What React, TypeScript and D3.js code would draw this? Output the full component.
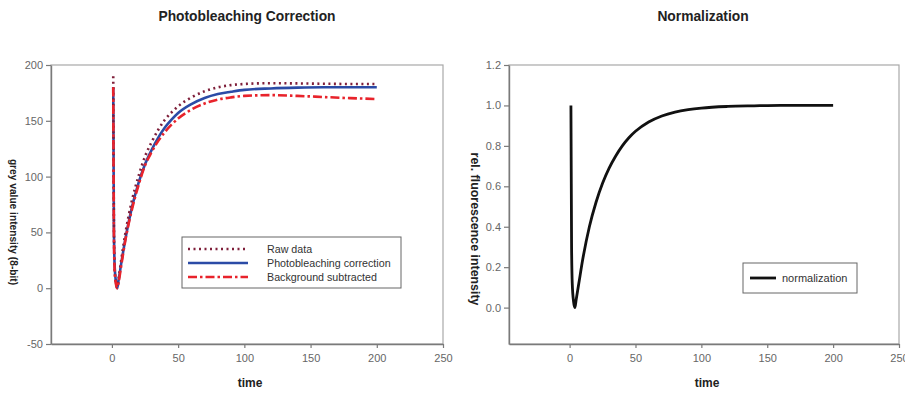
import React, { useRef, useEffect } from 'react';
import * as d3 from 'd3';

// values
const times = [1, 1.5, 2, 3, 4, 5, 7, 10, 15, 20, 25, 30, 35, 40, 45, 50, 60, 70, 80, 90, 100, 120, 140, 160, 180, 200];
const rawData = [190, 60, 20, 5, 1, 8, 25, 48, 78, 100, 118, 131, 142, 151, 157.5, 163, 171, 176.5, 180, 182, 183, 183.7, 183.5, 183.2, 183, 183];
const correctedData = [180, 55, 22, 6, 0, 7, 22, 43, 72, 94, 111, 124, 135, 144, 151, 157, 165, 170.5, 174, 176, 177.7, 179, 179.7, 180, 180, 180];
const backgroundData = [180, 50, 18, 4, 0, 5, 20, 42, 70, 92, 110, 122, 132, 140, 146.5, 152, 160, 165.5, 169, 171, 172.3, 173, 172.3, 171.3, 170.3, 169.5];
const normalizedData = [1.0, 0.3, 0.12, 0.03, 0, 0.04, 0.12, 0.24, 0.4, 0.52, 0.615, 0.69, 0.75, 0.8, 0.84, 0.872, 0.918, 0.948, 0.967, 0.979, 0.987, 0.995, 0.998, 1.0, 1.0, 1.0];

const xTicks = [0, 50, 100, 150, 200, 250];
const leftYTicks = [-50, 0, 50, 100, 150, 200];
const rightYTicks = [0, 0.2, 0.4, 0.6, 0.8, 1.0, 1.2];

const font = "'Liberation Sans', Arial, sans-serif";

type Series = { name: string; values: number[]; color: string; dash: string | null; width: number };

const App = () => {
  const svgRef = useRef<SVGSVGElement>(null);

  useEffect(() => {
    const svg = d3.select(svgRef.current);
    svg.selectAll('*').remove();

    const drawPanel = (o: any) => {
      const g = svg.append('g');
      const x = d3.scaleLinear().domain([-46, 250]).range([o.left, o.right]);
      const y = d3.scaleLinear().domain(o.yDomain).range([344, 65]);

      // plot frame
      g.append('rect')
        .attr('x', o.left).attr('y', 65)
        .attr('width', o.right - o.left).attr('height', 344 - 65)
        .attr('fill', 'none').attr('stroke', '#a8a8a8').attr('stroke-width', 1.2);

      const xAxis = g.append('g')
        .attr('transform', 'translate(0,344)')
        .call(d3.axisBottom(x).tickValues(xTicks).tickSize(4).tickSizeOuter(0).tickPadding(6));
      const yAxis = g.append('g')
        .attr('transform', `translate(${o.left},0)`)
        .call(d3.axisLeft(y).tickValues(o.yTicks).tickSize(5).tickSizeOuter(0).tickPadding(3).tickFormat(o.yFormat));

      [xAxis, yAxis].forEach(a => {
        a.select('.domain').attr('stroke', '#7a7a7a').attr('stroke-width', 1.4);
        a.selectAll('.tick line').attr('stroke', '#7a7a7a').attr('stroke-width', 1.2);
        a.selectAll('.tick text').attr('fill', '#666').style('font-size', '11px').style('font-family', font);
      });

      const line = d3.line<number>()
        .x((d, i) => x(times[i]))
        .y(d => y(d))
        .curve(d3.curveMonotoneX);

      o.series.forEach((s: Series) => {
        g.append('path')
          .datum(s.values)
          .attr('fill', 'none')
          .attr('stroke', s.color)
          .attr('stroke-width', s.width)
          .attr('stroke-dasharray', s.dash)
          .attr('stroke-linejoin', 'round')
          .attr('d', line);
      });

      // titles
      g.append('text')
        .attr('x', o.titleX).attr('y', 21)
        .attr('text-anchor', 'middle')
        .style('font-family', font).style('font-size', '13.8px').style('font-weight', 'bold')
        .attr('fill', '#222')
        .text(o.title);

      g.append('text')
        .attr('x', (o.left + o.right) / 2 + 3).attr('y', 387)
        .attr('text-anchor', 'middle')
        .style('font-family', font).style('font-size', '12px').style('font-weight', 'bold')
        .attr('fill', '#222')
        .text('time');

      g.append('text')
        .attr('transform', `translate(${o.yLabelX},${o.yLabelY}) rotate(90)`)
        .attr('text-anchor', 'middle')
        .attr('dominant-baseline', 'central')
        .style('font-family', font).style('font-size', o.yLabelSize).style('font-weight', 'bold')
        .attr('fill', '#222')
        .text(o.yLabel);

      // legend
      const lg = o.legend;
      g.append('rect')
        .attr('x', lg.x).attr('y', lg.y).attr('width', lg.w).attr('height', lg.h)
        .attr('fill', '#fff').attr('stroke', '#666').attr('stroke-width', 1);
      lg.items.forEach((s: Series, i: number) => {
        const ly = lg.rowY + i * 14;
        g.append('line')
          .attr('x1', lg.lineX1).attr('x2', lg.lineX2)
          .attr('y1', ly).attr('y2', ly)
          .attr('stroke', s.color).attr('stroke-width', s.width)
          .attr('stroke-dasharray', s.dash);
        g.append('text')
          .attr('x', lg.textX).attr('y', ly + 4)
          .style('font-family', font).style('font-size', lg.fontSize)
          .attr('fill', '#333')
          .text(s.name);
      });
    };

    const rawS: Series = { name: 'Raw data', values: rawData, color: '#7f1f3a', dash: '2 3.5', width: 2.6 };
    const corS: Series = { name: 'Photobleaching correction', values: correctedData, color: '#2b4ba6', dash: null, width: 2.6 };
    const bgS: Series = { name: 'Background subtracted', values: backgroundData, color: '#e8232b', dash: '9 3 2.5 3', width: 2.6 };
    const normS: Series = { name: 'normalization', values: normalizedData, color: '#111', dash: null, width: 2.8 };

    const dashMinus = (d: number) => String(d);

    drawPanel({
      left: 51, right: 443,
      yDomain: [-50, 200], yTicks: leftYTicks, yFormat: dashMinus,
      title: 'Photobleaching Correction', titleX: 247,
      yLabel: 'grey value intensity (8-bit)', yLabelX: 13, yLabelY: 222, yLabelSize: '10.2px',
      series: [corS, rawS, bgS],
      legend: { items: [rawS, corS, bgS], x: 182, y: 237, w: 219, h: 51, rowY: 249, lineX1: 188, lineX2: 248, textX: 267, fontSize: '10.7px' },
    });

    drawPanel({
      left: 509, right: 899,
      yDomain: [-0.18, 1.2], yTicks: rightYTicks, yFormat: d3.format('.1f'),
      title: 'Normalization', titleX: 703,
      yLabel: 'rel. fluorescence intensity', yLabelX: 475, yLabelY: 229, yLabelSize: '12.4px',
      series: [normS],
      legend: { items: [normS], x: 743, y: 263, w: 114, h: 30, rowY: 278, lineX1: 750, lineX2: 776, textX: 782, fontSize: '11px' },
    });
  }, []);

  return (
    <svg ref={svgRef} width={905} height={393} style={{ position: 'absolute', left: 0, top: 0, background: '#fff' }} />
  );
};

export default App;
